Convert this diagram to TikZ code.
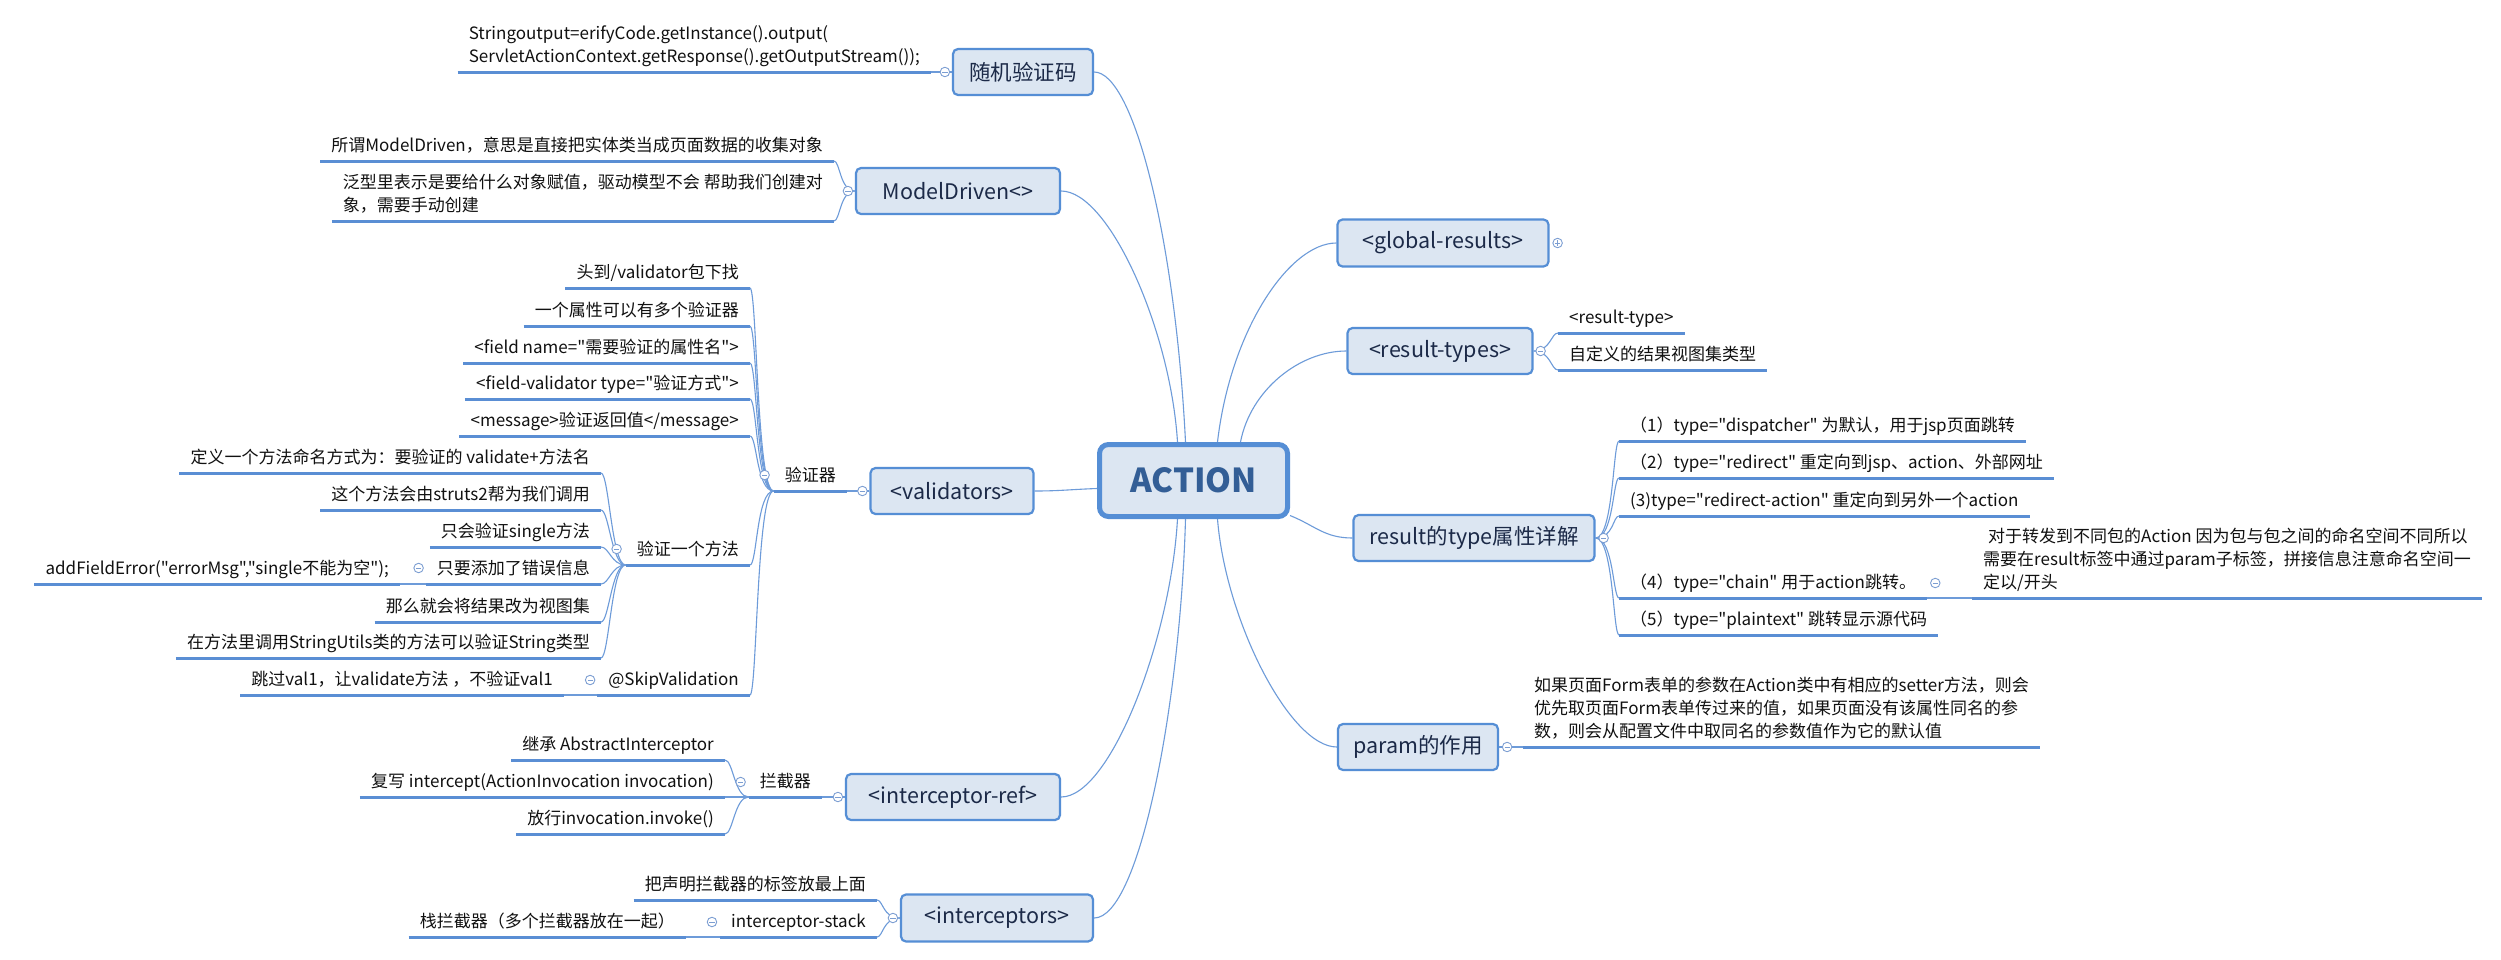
\documentclass[tikz,border=0pt]{standalone}
\usepackage{fontspec}
\newfontfamily\cjkf{Noto Sans CJK SC}
\usetikzlibrary{backgrounds}
\definecolor{boxc}{HTML}{DCE6F2}
\definecolor{bordc}{HTML}{558ED5}
\definecolor{ulc}{HTML}{5A8ED4}
\definecolor{connc}{HTML}{6D9BD9}
\definecolor{circc}{HTML}{7C9ED2}
\definecolor{topictxt}{HTML}{1C2A48}
\definecolor{acttxt}{HTML}{335E96}
\definecolor{leaftxt}{HTML}{111111}
\tikzset{
  central/.style={draw=bordc, fill=boxc, line width=5pt, rounded corners=9pt,
    minimum width=188pt, minimum height=72pt, inner sep=0pt,
    font=\cjkf\fontsize{33}{40}\selectfont\bfseries, text=acttxt},
  topic/.style={draw=bordc, fill=boxc, line width=2.2pt, rounded corners=5pt,
    inner sep=0pt, font=\cjkf\fontsize{21.5}{26}\selectfont, text=topictxt},
  leaf/.style={font=\cjkf\fontsize{17}{23}\selectfont, text=leaftxt, inner xsep=11pt,
    inner ysep=6pt, text depth=3.5pt, align=left},
  uline/.style={draw=ulc, line width=3pt},
  conn/.style={draw=connc, line width=1.1pt},
  collapse/.style={circle, draw=circc, fill=white, line width=0.9pt, minimum size=9.5pt,
    inner sep=0pt, path picture={\draw[circc, line width=0.9pt]
      ([xshift=-2.6pt]path picture bounding box.center) -- ([xshift=2.6pt]path picture bounding box.center);}},
  expand/.style={circle, draw=circc, fill=white, line width=0.9pt, minimum size=9.5pt,
    inner sep=0pt, path picture={\draw[circc, line width=0.9pt]
      ([xshift=-2.6pt]path picture bounding box.center) -- ([xshift=2.6pt]path picture bounding box.center)
      ([yshift=-2.6pt]path picture bounding box.center) -- ([yshift=2.6pt]path picture bounding box.center);}}
}
\begin{document}
\begin{tikzpicture}[x=1pt,y=-1pt]
\useasboundingbox (0,0) rectangle (2501,959);
\begin{scope}[on background layer]
\fill[white] (0,0) rectangle (2501,959);
\end{scope}

% ---------- central and main topics ----------
\node[central] (act) at (1193.5,480.5) {ACTION};
\node[topic, minimum width=140pt, minimum height=46pt] (rnd) at (1023,72) {随机验证码};
\node[topic, minimum width=204pt, minimum height=46pt] (md) at (958,191) {ModelDriven<>};
\node[topic, minimum width=163pt, minimum height=46pt] (val) at (952,491) {<validators>};
\node[topic, minimum width=214pt, minimum height=46pt] (ir) at (953,797) {<interceptor-ref>};
\node[topic, minimum width=192pt, minimum height=47pt] (isx) at (997,918) {<interceptors>};
\node[topic, minimum width=211pt, minimum height=47pt] (gr) at (1443,243) {<global-results>};
\node[topic, minimum width=185pt, minimum height=46pt] (rt) at (1440,351) {<result-types>};
\node[topic, minimum width=241pt, minimum height=46pt] (ty) at (1474,538) {result的type属性详解};
\node[topic, minimum width=160pt, minimum height=46pt] (pa) at (1418,747) {param的作用};

% ---------- left leaves ----------
\node[leaf, anchor=south east] (str) at (931,72) {Stringoutput=erifyCode.getInstance().output(\\ServletActionContext.getResponse().getOutputStream());};
\node[leaf, anchor=south east] (md1) at (834,161) {所谓ModelDriven，意思是直接把实体类当成页面数据的收集对象};
\node[leaf, anchor=south east] (md2) at (834,221) {泛型里表示是要给什么对象赋值，驱动模型不会 帮助我们创建对\\象，需要手动创建};

\node[leaf, anchor=south east] (v0) at (847,491) {验证器};
\node[leaf, anchor=south east] (vc1) at (750,288) {头到/validator包下找};
\node[leaf, anchor=south east] (vc2) at (750,326) {一个属性可以有多个验证器};
\node[leaf, anchor=south east] (vc3) at (750,363) {<field name="需要验证的属性名">};
\node[leaf, anchor=south east] (vc4) at (750,399) {<field-validator type="验证方式">};
\node[leaf, anchor=south east] (vc5) at (750,436) {<message>验证返回值</message>};
\node[leaf, anchor=south east] (vm) at (750,565) {验证一个方法};
\node[leaf, anchor=south east] (vs) at (750,695) {@SkipValidation};
\node[leaf, anchor=south east] (vsa) at (564,695) {跳过val1，让validate方法 ，不验证val1};

\node[leaf, anchor=south east] (m1) at (601,473) {定义一个方法命名方式为：要验证的 validate+方法名};
\node[leaf, anchor=south east] (m2) at (601,510) {这个方法会由struts2帮为我们调用};
\node[leaf, anchor=south east] (m3) at (601,547) {只会验证single方法};
\node[leaf, anchor=south east] (m4) at (601,584) {只要添加了错误信息};
\node[leaf, anchor=south east] (m4a) at (400,584) {addFieldError("errorMsg","single不能为空");};
\node[leaf, anchor=south east] (m5) at (601,622) {那么就会将结果改为视图集};
\node[leaf, anchor=south east] (m6) at (601,658) {在方法里调用StringUtils类的方法可以验证String类型};

\node[leaf, anchor=south east] (i0) at (822,797) {拦截器};
\node[leaf, anchor=south east] (ic1) at (725,760) {继承 AbstractInterceptor};
\node[leaf, anchor=south east] (ic2) at (725,797) {复写 intercept(ActionInvocation invocation)};
\node[leaf, anchor=south east] (ic3) at (725,834) {放行invocation.invoke()};

\node[leaf, anchor=south east] (s1) at (877,900) {把声明拦截器的标签放最上面};
\node[leaf, anchor=south east] (s2) at (877,937) {interceptor-stack};
\node[leaf, anchor=south east] (s2a) at (686,937) {栈拦截器（多个拦截器放在一起）};

% ---------- right leaves ----------
\node[leaf, anchor=south west] (rt1) at (1558,333) {<result-type>};
\node[leaf, anchor=south west] (rt2) at (1558,370) {自定义的结果视图集类型};

\node[leaf, anchor=south west] (ty1) at (1619,441) {（1）type="dispatcher" 为默认，用于jsp页面跳转};
\node[leaf, anchor=south west] (ty2) at (1619,478) {（2）type="redirect" 重定向到jsp、action、外部网址};
\node[leaf, anchor=south west] (ty3) at (1619,516) {(3)type="redirect-action" 重定向到另外一个action};
\node[leaf, anchor=south west] (ty4) at (1619,598) {（4）type="chain" 用于action跳转。};
\node[leaf, anchor=south west] (ty4a) at (1972,598) {\hspace{5pt}对于转发到不同包的Action 因为包与包之间的命名空间不同所以\\需要在result标签中通过param子标签，拼接信息注意命名空间一\\定以/开头};
\node[leaf, anchor=south west] (ty5) at (1619,635) {（5）type="plaintext" 跳转显示源代码};

\node[leaf, anchor=south west] (pa1) at (1523,747) {如果页面Form表单的参数在Action类中有相应的setter方法，则会\\优先取页面Form表单传过来的值，如果页面没有该属性同名的参\\数，则会从配置文件中取同名的参数值作为它的默认值};

% ---------- underlines ----------
\foreach \n in {str,md1,md2,v0,vc1,vc2,vc3,vc4,vc5,vm,vs,vsa,m1,m2,m3,m4,m4a,m5,m6,i0,ic1,ic2,ic3,s1,s2,s2a,rt1,rt2,ty1,ty2,ty3,ty4,ty4a,ty5,pa1}
  \draw[uline] (\n.south west) -- (\n.south east);

% ---------- connectors ----------
\begin{scope}[on background layer]
\draw[conn] (rnd.east) .. controls +(40,0) and +(-10,-200) .. ([xshift=-8pt]act.north);
\draw[conn] (md.east) .. controls +(48,0) and +(-7,-112) .. ([xshift=-16pt]act.north);
\draw[conn] (gr.west) .. controls +(-47,0) and +(13,-112) .. ([xshift=24pt]act.north);
\draw[conn] (rt.west) .. controls +(-47,0) and +(10,-52) .. ([xshift=47pt]act.north);
\draw[conn] ([yshift=-35pt]act.east) .. controls +(25,10) and +(-28,0) .. (ty.west);
\draw[conn] (ir.east) .. controls +(49,0) and +(-7,121) .. ([xshift=-16pt]act.south);
\draw[conn] (isx.east) .. controls +(46,0) and +(-5,181) .. ([xshift=-8pt]act.south);
\draw[conn] (pa.west) .. controls +(-47,0) and +(8,101) .. ([xshift=24pt]act.south);
\draw[conn] ([yshift=-8pt]act.west) .. controls +(-27,1) and +(25,0) .. (val.east);
\end{scope}
\draw[conn] (rnd.west) -- (str.south east);
\foreach \c in {md1,md2} \draw[conn] (md.west) .. controls +(-15,0) and +(6,0) .. (\c.south east);
\draw[conn] (val.west) -- (v0.south east);
\foreach \c in {vc1,vc2,vc3,vc4,vc5,vm,vs} \draw[conn] (v0.south west) .. controls +(-17,0) and +(7,0) .. (\c.south east);
\foreach \c in {m1,m2,m3,m4,m5,m6} \draw[conn] (vm.south west) .. controls +(-14,0) and +(8,0) .. (\c.south east);
\draw[conn] (m4a.south east) -- (m4.south west);
\draw[conn] (vsa.south east) -- (vs.south west);
\draw[conn] (ir.west) -- (i0.south east);
\foreach \c in {ic1,ic2,ic3} \draw[conn] (i0.south west) .. controls +(-14,0) and +(8,0) .. (\c.south east);
\foreach \c in {s1,s2} \draw[conn] (isx.west) .. controls +(-17,0) and +(6,0) .. (\c.south east);
\draw[conn] (s2a.south east) -- (s2.south west);
\foreach \c in {rt1,rt2} \draw[conn] (rt.east) .. controls +(17,0) and +(-7,0) .. (\c.south west);
\foreach \c in {ty1,ty2,ty3,ty4,ty5} \draw[conn] (ty.east) .. controls +(18,0) and +(-6,0) .. (\c.south west);
\draw[conn] (ty4.south east) -- (ty4a.south west);
\draw[conn] (pa.east) -- (pa1.south west);

% ---------- collapse markers ----------
\node[collapse] (k1) at ([xshift=-7pt]rnd.west) {};
\node[collapse] (k2) at ([xshift=-7pt]md.west) {};
\node[collapse] (k3) at ([xshift=-7pt]val.west) {};
\node[collapse] (k4) at ([xshift=-7pt]ir.west) {};
\node[collapse] (k5) at ([xshift=-7pt]isx.west) {};
\node[expand] (k6) at ([xshift=8pt]gr.east) {};
\node[collapse] (k7) at ([xshift=7pt]rt.east) {};
\node[collapse] (k8) at ([xshift=8pt]ty.east) {};
\node[collapse] (k9) at ([xshift=8pt]pa.east) {};
\node[collapse] (k10) at ([xshift=-9pt,yshift=16pt]v0.south west) {};
\node[collapse] (k11) at ([xshift=-9pt,yshift=16pt]vm.south west) {};
\node[collapse] (k12) at ([xshift=-7pt,yshift=16pt]m4.south west) {};
\node[collapse] (k13) at ([xshift=-7pt,yshift=15pt]vs.south west) {};
\node[collapse] (k14) at ([xshift=-8pt,yshift=15pt]i0.south west) {};
\node[collapse] (k15) at ([xshift=-8pt,yshift=15pt]s2.south west) {};
\node[collapse] (k16) at ([xshift=8pt,yshift=15pt]ty4.south east) {};
\end{tikzpicture}
\end{document}
